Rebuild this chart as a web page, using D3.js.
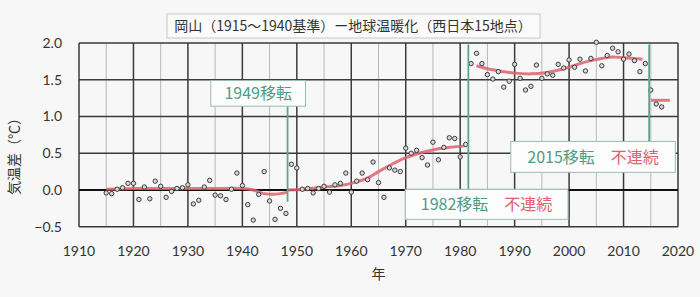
<!DOCTYPE html>
<html>
<head>
<meta charset="utf-8">
<script src="https://cdn.jsdelivr.net/npm/d3@7"></script>
<style>
  body { margin: 0; background: #f7f7f7; }
  svg { display: block; }
</style>
</head>
<body>
<div id="chart"></div>
<script>
// annual temperature difference (deg C), Okayama, 1915-1940 base
var years = [1915,1916,1917,1918,1919,1920,1921,1922,1923,1924,1925,1926,1927,1928,1929,
  1930,1931,1932,1933,1934,1935,1936,1937,1938,1939,1940,1941,1942,1943,1944,1945,1946,1947,1948,1949,
  1950,1951,1952,1953,1954,1955,1956,1957,1958,1959,1960,1961,1962,1963,1964,1965,1966,1967,1968,1969,
  1970,1971,1972,1973,1974,1975,1976,1977,1978,1979,1980,1981,1982,1983,1984,1985,1986,1987,1988,1989,
  1990,1991,1992,1993,1994,1995,1996,1997,1998,1999,2000,2001,2002,2003,2004,2005,2006,2007,2008,2009,
  2010,2011,2012,2013,2014,2015,2016,2017]
var diffs = [-0.04,-0.05,0.01,0.03,0.09,0.09,-0.13,0.04,-0.12,0.12,0.05,-0.10,-0.02,0.02,0.03,
  0.07,-0.19,-0.14,0.04,0.13,-0.07,-0.08,-0.13,0.01,0.23,0.06,-0.20,-0.41,-0.06,0.25,-0.15,-0.40,-0.25,-0.32,0.35,
  0.30,0.01,0.02,-0.04,0.02,0.05,-0.03,0.07,0.09,0.23,-0.03,0.12,0.23,0.14,0.38,0.10,-0.10,0.30,0.27,0.25,
  0.57,0.50,0.54,0.44,0.34,0.65,0.41,0.58,0.71,0.70,0.45,0.62,1.72,1.86,1.72,1.57,1.51,1.61,1.40,1.48,
  1.71,1.52,1.36,1.41,1.70,1.52,1.58,1.56,1.71,1.66,1.77,1.67,1.78,1.62,1.79,2.01,1.69,1.83,1.93,1.88,
  1.78,1.85,1.76,1.61,1.72,1.36,1.17,1.13]

// smoothed trend, one piece per continuous period
var trend1Years = [1915,1920,1925,1930,1935,1940,1942,1944,1945.5,1947,1948.3]
var trend1Values = [0.01,0.02,0.02,0.02,0.02,0.02,0.0,-0.05,-0.06,-0.05,-0.03]
var trend2Years = [1948.3,1951,1955,1958,1960,1963,1965,1968,1970,1973,1976,1978,1981]
var trend2Values = [0.0,0.01,0.04,0.06,0.09,0.16,0.25,0.37,0.44,0.51,0.56,0.58,0.60]
var trend3Years = [1983,1985,1988,1990,1993,1996,1998,2000,2002,2004,2006,2008,2010,2012,2013.5]
var trend3Values = [1.69,1.65,1.61,1.59,1.58,1.60,1.63,1.67,1.72,1.76,1.79,1.81,1.80,1.79,1.78]
var trend4Years = [2015,2018.5]
var trend4Values = [1.22,1.22]

var xTicks = [1910,1920,1930,1940,1950,1960,1970,1980,1990,2000,2010,2020]
var xMinorTicks = [1915,1925,1935,1945,1955,1965,1975,1985,1995,2005,2015]
var yTicks = [-0.5,0.0,0.5,1.0,1.5,2.0]

var titleText = "岡山（1915～1940基準）ー地球温暖化（西日本15地点）"
var xLabel = "年"
var yLabel = "気温差（℃）"

// station moves: year of the break, and the note boxes
var breakYears = [1948.3, 1981.5, 2014.7]
var breakTop = [1.14, 1.98, 1.98]
var breakBottom = [-0.16, 0.01, 0.66]
var noteMove = ["1949移転", "1982移転", "2015移転"]
var noteGap = ["", "不連続", "不連続"]
var noteX0 = [1934.2, 1969.9, 1989.3]
var noteX1 = [1951.6, 1999.8, 2019.5]
var noteY0 = [1.49, 0.01, 0.66]
var noteY1 = [1.14, -0.40, 0.24]

var width = 700, height = 297
var margin = {top: 43, right: 22, bottom: 70.3, left: 79}

var svg = d3.select("#chart").append("svg")
    .attr("width", width)
    .attr("height", height)

var x = d3.scaleLinear().domain([1910, 2020]).range([margin.left, width - margin.right])
var y = d3.scaleLinear().domain([-0.5, 2.0]).range([height - margin.bottom, margin.top])

var jp = "'Noto Sans CJK JP', 'Noto Sans', sans-serif"
var num = "Lato, 'Noto Sans', sans-serif"
var green = "#4f9c84", red = "#e0606c"

// grid
svg.append("g").selectAll("line").data(xMinorTicks).join("line")
    .attr("x1", d => x(d)).attr("x2", d => x(d))
    .attr("y1", y(2.0)).attr("y2", y(-0.5))
    .attr("stroke", "#b8b8b8").attr("stroke-width", 1)

svg.append("g").selectAll("line").data(xTicks).join("line")
    .attr("x1", d => x(d)).attr("x2", d => x(d))
    .attr("y1", y(2.0)).attr("y2", y(-0.5))
    .attr("stroke", "#3a3a3a").attr("stroke-width", 1.5)

svg.append("g").selectAll("line").data(yTicks).join("line")
    .attr("x1", x(1910)).attr("x2", x(2020))
    .attr("y1", d => y(d)).attr("y2", d => y(d))
    .attr("stroke", d => d === 0 ? "#111" : "#3a3a3a")
    .attr("stroke-width", d => d === 0 ? 2 : 1.5)

// tick labels
svg.append("g").selectAll("text").data(yTicks).join("text")
    .attr("x", 62).attr("y", d => y(d))
    .attr("dy", "0.35em")
    .attr("text-anchor", "end")
    .attr("font-family", num).attr("font-size", 14).attr("fill", "#333")
    .text(d => d3.format(".1f")(d))

svg.append("g").selectAll("text").data(xTicks).join("text")
    .attr("x", d => x(d)).attr("y", 251)
    .attr("dy", "0.35em")
    .attr("text-anchor", "middle")
    .attr("font-family", num).attr("font-size", 14).attr("fill", "#333")
    .text(d => d)

svg.append("text")
    .attr("x", (x(1910) + x(2020)) / 2).attr("y", 274)
    .attr("dy", "0.35em").attr("text-anchor", "middle")
    .attr("font-family", jp).attr("font-size", 14).attr("fill", "#333")
    .text(xLabel)

svg.append("text")
    .attr("transform", "translate(14," + 153 + ") rotate(-90)")
    .attr("dy", "0.35em").attr("text-anchor", "middle")
    .attr("font-family", jp).attr("font-size", 14).attr("fill", "#333")
    .text(yLabel)

// title box
var title = svg.append("g")
title.append("rect")
    .attr("x", 167).attr("y", 14).attr("width", 373).attr("height", 24)
    .attr("fill", "#fbfbfb").attr("stroke", "#c8c8c8")
title.append("text")
    .attr("x", 353).attr("y", 26).attr("dy", "0.35em")
    .attr("text-anchor", "middle")
    .attr("font-family", jp).attr("font-size", 14).attr("fill", "#333")
    .text(titleText)

// trend lines
var line = d3.line()
    .x(d => x(d[0]))
    .y(d => y(d[1]))
    .curve(d3.curveCatmullRom)

var trends = [
    d3.zip(trend1Years, trend1Values),
    d3.zip(trend2Years, trend2Values),
    d3.zip(trend3Years, trend3Values),
    d3.zip(trend4Years, trend4Values)
]
svg.append("g").selectAll("path").data(trends).join("path")
    .attr("d", line)
    .attr("fill", "none")
    .attr("stroke", red).attr("stroke-opacity", 0.85)
    .attr("stroke-width", 3)

// yearly points
svg.append("g").selectAll("circle").data(d3.zip(years, diffs)).join("circle")
    .attr("cx", d => x(d[0]))
    .attr("cy", d => y(d[1]))
    .attr("r", 2.2)
    .attr("fill", "#d8d8d8")
    .attr("stroke", "#3c3c3c").attr("stroke-width", 1)

// break lines
svg.append("g").selectAll("line").data(breakYears).join("line")
    .attr("x1", d => x(d)).attr("x2", d => x(d))
    .attr("y1", (d, i) => y(breakTop[i])).attr("y2", (d, i) => y(breakBottom[i]))
    .attr("stroke", "#5aa88c").attr("stroke-width", 1.8)

// note boxes
var notes = svg.append("g").selectAll("g").data(noteMove).join("g")
notes.append("rect")
    .attr("x", (d, i) => x(noteX0[i]))
    .attr("y", (d, i) => y(noteY0[i]))
    .attr("width", (d, i) => x(noteX1[i]) - x(noteX0[i]))
    .attr("height", (d, i) => y(noteY1[i]) - y(noteY0[i]))
    .attr("fill", "#fdfdfd")
    .attr("stroke", "#9cbcae").attr("stroke-width", 1)

var noteText = notes.append("text")
    .attr("x", (d, i) => (x(noteX0[i]) + x(noteX1[i])) / 2)
    .attr("y", (d, i) => (y(noteY0[i]) + y(noteY1[i])) / 2)
    .attr("dy", "0.36em")
    .attr("text-anchor", "middle")
    .attr("font-family", jp).attr("font-size", 16)
    .attr("xml:space", "preserve")
noteText.append("tspan")
    .attr("fill", green)
    .text(d => d)
noteText.append("tspan")
    .attr("fill", red)
    .text((d, i) => noteGap[i] ? "\u3000" + noteGap[i] : "")
</script>
</body>
</html>
